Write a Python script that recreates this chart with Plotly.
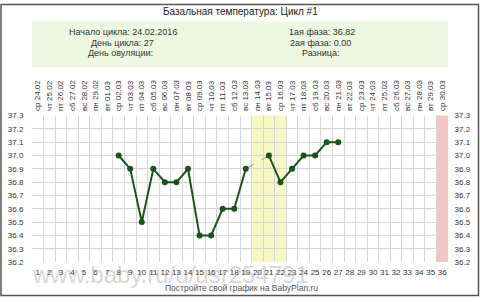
import plotly.graph_objects as go

days = list(range(1, 37))
dates = ["ср 24.02", "чт 25.02", "пт 26.02", "сб 27.02", "вс 28.02", "пн 29.02",
         "вт 01.03", "ср 02.03", "чт 03.03", "пт 04.03", "сб 05.03", "вс 06.03",
         "пн 07.03", "вт 08.03", "ср 09.03", "чт 10.03", "пт 11.03", "сб 12.03",
         "вс 13.03", "пн 14.03", "вт 15.03", "ср 16.03", "чт 17.03", "пт 18.03",
         "сб 19.03", "вс 20.03", "пн 21.03", "вт 22.03", "ср 23.03", "чт 24.03",
         "пт 25.03", "сб 26.03", "вс 27.03", "пн 28.03", "вт 29.03", "ср 30.03"]
temp_days = [8, 9, 10, 11, 12, 13, 14, 15, 16, 17, 18, 19, 20, 21, 22, 23, 24, 25, 26, 27]
temps = [37.0, 36.9, 36.5, 36.9, 36.8, 36.8, 36.9, 36.4, 36.4, 36.6, 36.6, 36.9,
         None, 37.0, 36.8, 36.9, 37.0, 37.0, 37.1, 37.1]
gap_days = [19, 21]
ovulation_days = [20, 21, 22]
next_cycle_day = 36
y_ticks = [36.2, 36.3, 36.4, 36.5, 36.6, 36.7, 36.8, 36.9, 37.0, 37.1, 37.2, 37.3]

W, H = 480, 302
L, R, T, B = 32, 448, 115, 266
FONT = "Arial, Liberation Sans, sans-serif"
GREEN = "#1b541b"

fig = go.Figure()

gap_y = [temps[temp_days.index(d)] for d in gap_days]
fig.add_trace(go.Scatter(x=gap_days, y=gap_y, mode="lines",
                         line=dict(color="#8a9a80", width=1, dash="dash"),
                         hoverinfo="skip", showlegend=False))
fig.add_trace(go.Scatter(x=temp_days, y=temps, mode="lines+markers",
                         line=dict(color=GREEN, width=2),
                         marker=dict(color=GREEN, size=6),
                         connectgaps=False, showlegend=False))
fig.add_trace(go.Scatter(x=days, y=[None] * len(days), xaxis="x2", yaxis="y",
                         mode="markers", showlegend=False, hoverinfo="skip"))
fig.add_trace(go.Scatter(x=[None], y=[None], xaxis="x", yaxis="y2",
                         mode="markers", showlegend=False, hoverinfo="skip"))

fig.add_vrect(x0=min(ovulation_days) - 0.5, x1=max(ovulation_days) + 0.5,
              fillcolor="#f8f8c4", line_width=0, layer="below")
fig.add_vrect(x0=next_cycle_day - 0.5, x1=next_cycle_day + 0.5,
              fillcolor="#f7c4c4", line_width=0, layer="below")

grid = "#d6d6d6"
xdom = [L / W, R / W]
ydom = [1 - B / H, 1 - T / H]

fig.update_layout(
    width=W, height=H, margin=dict(l=0, r=0, t=0, b=0),
    paper_bgcolor="white", plot_bgcolor="rgba(0,0,0,0)",
    font=dict(family=FONT, size=8, color="#333"),
    xaxis=dict(domain=xdom, range=[0.5, 36.5], tickmode="array", tickvals=days,
               ticktext=[str(d) for d in days], showgrid=False, zeroline=False,
               ticks="outside", ticklen=2, tickcolor="rgba(0,0,0,0)",
               tickfont=dict(size=8, color="#333"),
               minor=dict(tickmode="linear", tick0=0.5, dtick=1, showgrid=True,
                          gridcolor=grid, gridwidth=1, ticks="")),
    xaxis2=dict(domain=xdom, range=[0.5, 36.5], overlaying="x", side="top",
                tickmode="array", tickvals=days, ticktext=dates, tickangle=-90,
                showgrid=False, zeroline=False, ticks="outside", ticklen=2,
                tickcolor="rgba(0,0,0,0)", tickfont=dict(size=8, color="#333")),
    yaxis=dict(domain=ydom, range=[36.2, 37.3], tickmode="array", tickvals=y_ticks,
               ticktext=[f"{v:.1f}" for v in y_ticks], showgrid=True,
               gridcolor=grid, zeroline=False, ticks="outside", ticklen=6,
               tickcolor="rgba(0,0,0,0)", tickfont=dict(size=8, color="#333")),
    yaxis2=dict(domain=ydom, range=[36.2, 37.3], overlaying="y", side="right",
                anchor="x", tickmode="array", tickvals=y_ticks,
                ticktext=[f"{v:.1f}" for v in y_ticks], showgrid=False,
                zeroline=False, ticks="outside", ticklen=4,
                tickcolor="rgba(0,0,0,0)", tickfont=dict(size=8, color="#333")),
)

shapes = [
    dict(type="rect", xref="paper", yref="paper", x0=L / W, x1=R / W,
         y0=1 - 65 / H, y1=1 - 18 / H, fillcolor="#eef7df", line_width=0,
         layer="below"),
    dict(type="rect", xref="paper", yref="paper", x0=1 / W, x1=478.5 / W,
         y0=1.5 / H, y1=1 - 0.5 / H, line=dict(color="#555", width=1.5)),
]
for s in shapes:
    fig.add_shape(**s)

def ann(text, x, y, size=9, color="#333", xanchor="center"):
    fig.add_annotation(text=text, x=x / W, y=1 - y / H, xref="paper", yref="paper",
                       showarrow=False, xanchor=xanchor, yanchor="middle",
                       font=dict(family=FONT, size=size, color=color))

ann("Базальная температура: Цикл #1", 240, 8, size=10, color="#222")
ann("Начало цикла: 24.02.2016", 123, 29)
ann("День цикла: 27", 123, 40)
ann("День овуляции:", 120, 51)
ann("1ая фаза: 36.82", 322, 29)
ann("2ая фаза: 0.00", 320, 40)
ann("Разница:", 320, 51)
ann("www.baby.ru/u/usr254791", 170, 279, size=24, color="rgba(150,150,150,0.4)")
ann("Постройте свой график на BabyPlan.ru", 241, 293, size=8.5, color="#555")

fig.write_html("out.html")
